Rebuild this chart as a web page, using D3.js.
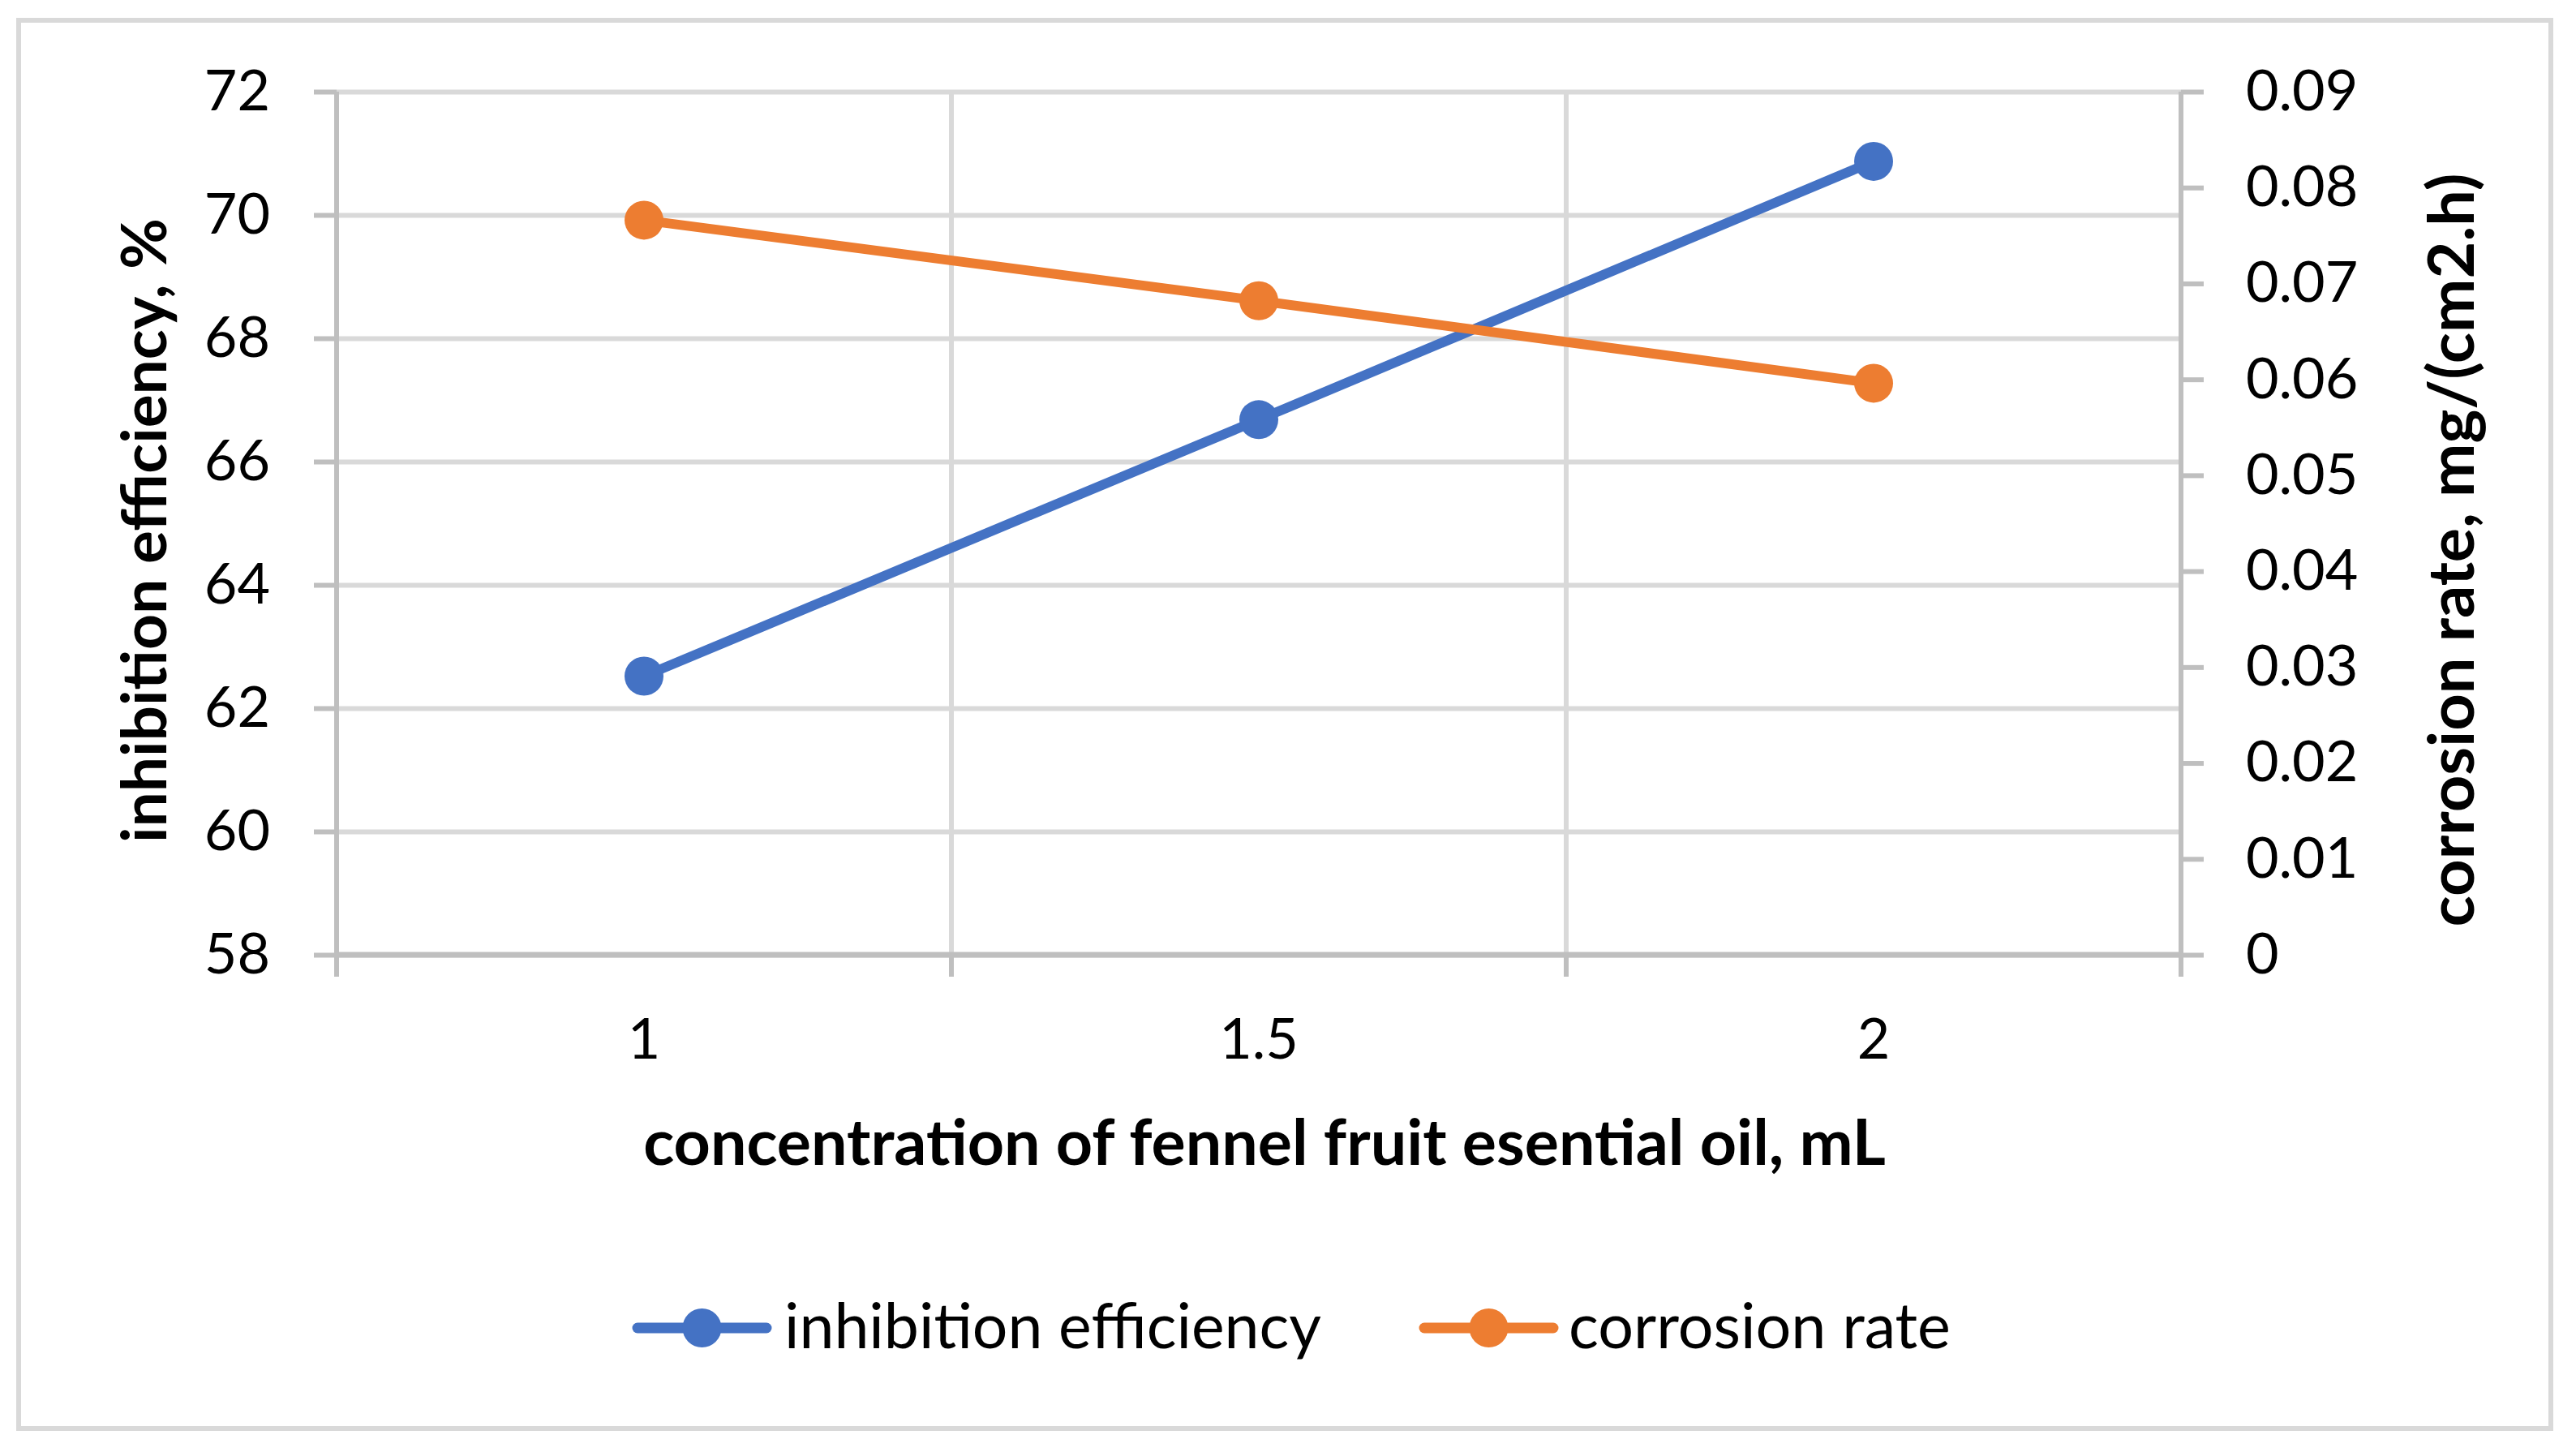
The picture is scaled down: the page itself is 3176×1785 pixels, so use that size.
<!DOCTYPE html>
<html>
<head>
<meta charset="utf-8">
<script src="https://cdn.jsdelivr.net/npm/d3@7"></script>
<style>
  body { margin: 0; background: #fff; }
  text { font-family: Lato, "Open Sans", sans-serif; fill: #000; }
</style>
</head>
<body>
<script>
// chart data
var categories = ["1", "1.5", "2"];
var inhibition = [62.52, 66.68, 70.87];
var corrosion = [0.0766, 0.0682, 0.0596];
var leftTicks = [58, 60, 62, 64, 66, 68, 70, 72];
var rightTicks = [0, 0.01, 0.02, 0.03, 0.04, 0.05, 0.06, 0.07, 0.08, 0.09];
var seriesNames = ["inhibition efficiency", "corrosion rate"];
var seriesColors = ["#4472C4", "#ED7D31"];

var W = 3176, H = 1785;
// plot box (note: "top" is a reserved window property, so use other names)
var pL = 415, pR = 2689, pT = 113, pB = 1177;

var svg = d3.select("body").append("svg")
  .attr("width", W)
  .attr("height", H);

// outer frame
svg.append("rect")
  .attr("x", 23).attr("y", 25)
  .attr("width", 3122).attr("height", 1736)
  .attr("fill", "white")
  .attr("stroke", "#d9d9d9")
  .attr("stroke-width", 6);

var x = d3.scaleBand().domain(categories).range([pL, pR]);
var yL = d3.scaleLinear().domain([58, 72]).range([pB, pT]);
var yR = d3.scaleLinear().domain([0, 0.09]).range([pB, pT]);
function cx(d) { return x(d) + x.bandwidth() / 2; }

// horizontal gridlines
svg.append("g")
  .attr("transform", "translate(" + pL + ",0)")
  .call(d3.axisLeft(yL).tickValues(leftTicks).tickSize(-(pR - pL)).tickFormat(""))
  .call(function(g) {
    g.select(".domain").remove();
    g.selectAll(".tick line").attr("stroke", "#d9d9d9").attr("stroke-width", 6);
  });

// vertical gridlines at category boundaries
var edges = categories.map(function(c) { return x(c); }).concat([x.range()[1]]);
svg.append("g").selectAll("line")
  .data(edges.slice(1, -1))
  .enter()
  .append("line")
  .attr("x1", function(d) { return d; })
  .attr("x2", function(d) { return d; })
  .attr("y1", pT)
  .attr("y2", pB)
  .attr("stroke", "#d9d9d9")
  .attr("stroke-width", 6);

// bottom axis line + boundary ticks
svg.append("line")
  .attr("x1", pL).attr("x2", pR)
  .attr("y1", pB).attr("y2", pB)
  .attr("stroke", "#bfbfbf").attr("stroke-width", 7);
svg.append("g").selectAll("line")
  .data(edges)
  .enter()
  .append("line")
  .attr("x1", function(d) { return d; })
  .attr("x2", function(d) { return d; })
  .attr("y1", pB)
  .attr("y2", pB + 27)
  .attr("stroke", "#bfbfbf")
  .attr("stroke-width", 6);

// x labels
svg.append("g")
  .attr("transform", "translate(0," + pB + ")")
  .call(d3.axisBottom(x).tickSize(0).tickPadding(78))
  .call(function(g) {
    g.select(".domain").remove();
    g.selectAll("text").attr("font-size", "70px").attr("font-family", "Lato, sans-serif").attr("fill", "#000");
  });

// left axis
svg.append("g")
  .attr("transform", "translate(" + pL + ",0)")
  .call(d3.axisLeft(yL).tickValues(leftTicks).tickSize(28).tickPadding(54))
  .call(function(g) {
    g.select(".domain").attr("stroke", "#bfbfbf").attr("stroke-width", 6)
      .attr("d", "M0," + pT + "V" + (pB + 27));
    g.selectAll(".tick line").attr("stroke", "#bfbfbf").attr("stroke-width", 6);
    g.selectAll("text").attr("font-size", "70px").attr("font-family", "Lato, sans-serif").attr("fill", "#000");
  });

// right axis
svg.append("g")
  .attr("transform", "translate(" + pR + ",0)")
  .call(d3.axisRight(yR).tickValues(rightTicks).tickSize(28).tickPadding(52)
    .tickFormat(function(d) { return d === 0 ? "0" : d3.format(".2f")(d); }))
  .call(function(g) {
    g.select(".domain").attr("stroke", "#bfbfbf").attr("stroke-width", 6)
      .attr("d", "M0," + pT + "V" + (pB + 27));
    g.selectAll(".tick line").attr("stroke", "#bfbfbf").attr("stroke-width", 6);
    g.selectAll("text").attr("font-size", "70px").attr("font-family", "Lato, sans-serif").attr("fill", "#000");
  });

// scale a text's font size so it spans the given width
function fit(t, w) {
  var len = t.node().getComputedTextLength();
  var fs = parseFloat(t.attr("font-size"));
  t.attr("font-size", (fs * w / len) + "px");
}

// series lines + markers
var series = [
  { vals: inhibition, y: yL, color: seriesColors[0] },
  { vals: corrosion, y: yR, color: seriesColors[1] }
];
series.forEach(function(s) {
  var line = d3.line()
    .x(function(d, i) { return cx(categories[i]); })
    .y(function(d) { return s.y(d); });
  svg.append("path")
    .datum(s.vals)
    .attr("d", line)
    .attr("fill", "none")
    .attr("stroke", s.color)
    .attr("stroke-width", 12)
    .attr("stroke-linejoin", "round")
    .attr("stroke-linecap", "round");
  svg.selectAll(null)
    .data(s.vals)
    .enter()
    .append("circle")
    .attr("cx", function(d, i) { return cx(categories[i]); })
    .attr("cy", function(d) { return s.y(d); })
    .attr("r", 24)
    .attr("fill", s.color);
});

// axis titles
var xt = svg.append("text")
  .attr("x", 1559).attr("y", 1436)
  .attr("text-anchor", "middle")
  .attr("font-weight", "bold")
  .attr("font-size", "70px")
  .text("concentration of fennel fruit esential oil, mL");
fit(xt, 1532);

var lt = svg.append("text")
  .attr("transform", "translate(205,654) rotate(-90)")
  .attr("text-anchor", "middle")
  .attr("font-weight", "bold")
  .attr("font-size", "70px")
  .text("inhibition efficiency, %");
fit(lt, 770);

var rt = svg.append("text")
  .attr("transform", "translate(3050,678) rotate(-90)")
  .attr("text-anchor", "middle")
  .attr("font-weight", "bold")
  .attr("font-size", "70px")
  .text("corrosion rate, mg/(cm2.h)");
fit(rt, 929);

// legend
var legendX = [786, 1756];
var legendText = [[967, 662], [1934, 471]];
var ly = 1637;
seriesNames.forEach(function(name, i) {
  svg.append("line")
    .attr("x1", legendX[i]).attr("x2", legendX[i] + 159)
    .attr("y1", ly).attr("y2", ly)
    .attr("stroke", seriesColors[i])
    .attr("stroke-width", 13)
    .attr("stroke-linecap", "round");
  svg.append("circle")
    .attr("cx", legendX[i] + 79.5).attr("cy", ly)
    .attr("r", 24)
    .attr("fill", seriesColors[i]);
  var t = svg.append("text")
    .attr("x", legendText[i][0]).attr("y", 1662)
    .attr("font-size", "70px")
    .text(name);
  fit(t, legendText[i][1]);
});
</script>
</body>
</html>
